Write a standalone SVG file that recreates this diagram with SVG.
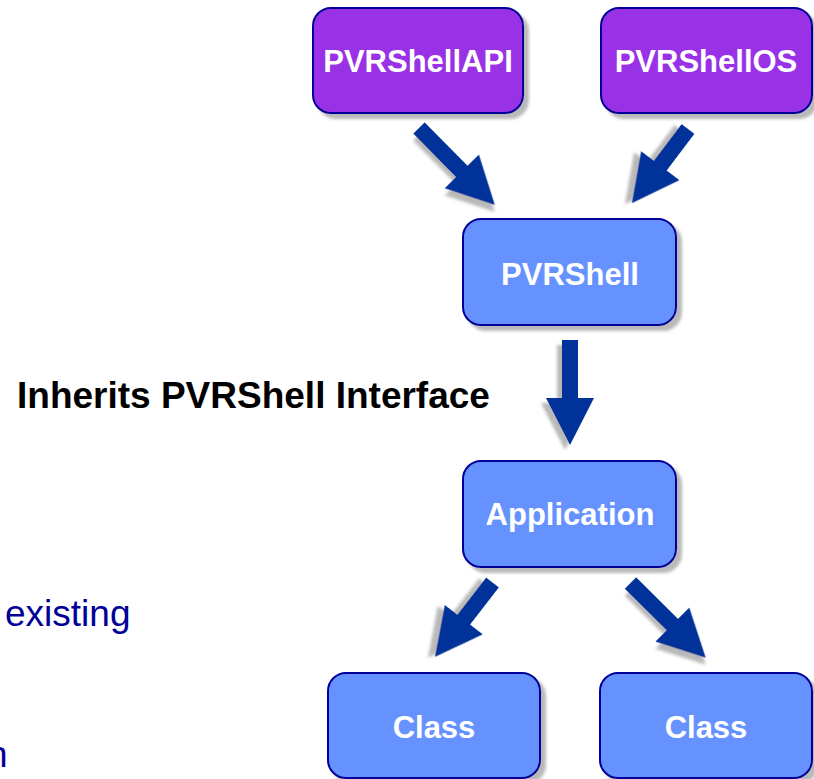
<svg xmlns="http://www.w3.org/2000/svg" width="814" height="779" viewBox="0 0 814 779">
<defs>
<filter id="sh" x="-20%" y="-20%" width="150%" height="150%">
<feDropShadow dx="5" dy="5" stdDeviation="1.5" flood-color="#808080" flood-opacity="0.55"/>
</filter>
<style>
.box{stroke:#000099;stroke-width:2;filter:url(#sh)}
.purple{fill:#9933E6}
.blue{fill:#6692FF}
.lbl{font-family:"Liberation Sans",Arial,sans-serif;font-weight:bold;font-size:31px;fill:#ffffff;text-anchor:middle}
.arrow{fill:#003399;filter:url(#sh)}
.note{font-family:"Liberation Sans",Arial,sans-serif;font-size:37px;fill:#000099}
.title{font-family:"Liberation Sans",Arial,sans-serif;font-weight:bold;font-size:37px;fill:#000000}
</style>
</defs>
<rect width="814" height="779" fill="#ffffff"/>
<g id="connectors">
<path class="arrow" transform="translate(419,128) rotate(45.4)" d="M0,-8 H61 V-24 L108,0 L61,24 V8 H0 Z"/>
<path class="arrow" transform="translate(688,129) rotate(127.1)" d="M0,-8 H46 V-24 L93,0 L46,24 V8 H0 Z"/>
<path class="arrow" transform="translate(570,340) rotate(90)" d="M0,-8 H58 V-24 L105,0 L58,24 V8 H0 Z"/>
<path class="arrow" transform="translate(492.5,582.5) rotate(127.7)" d="M0,-8 H47 V-24 L94,0 L47,24 V8 H0 Z"/>
<path class="arrow" transform="translate(630.5,583) rotate(44.8)" d="M0,-8 H59 V-24 L106,0 L59,24 V8 H0 Z"/>
</g>
<g id="PVRShellAPI">
<rect class="box purple" x="313" y="8" width="210" height="105" rx="18"/>
<text class="lbl" x="418" y="72">PVRShellAPI</text>
</g>
<g id="PVRShellOS">
<rect class="box purple" x="601" y="8" width="211" height="105" rx="18"/>
<text class="lbl" x="706" y="72">PVRShellOS</text>
</g>
<g id="PVRShell">
<rect class="box blue" x="463" y="219" width="213" height="106" rx="18"/>
<text class="lbl" x="570" y="285">PVRShell</text>
</g>
<g id="Application">
<rect class="box blue" x="463" y="461" width="213" height="106" rx="18"/>
<text class="lbl" x="570" y="525">Application</text>
</g>
<g id="Class1">
<rect class="box blue" x="328" y="673" width="212" height="105" rx="18"/>
<text class="lbl" x="434" y="738">Class</text>
</g>
<g id="Class2">
<rect class="box blue" x="600" y="673" width="212" height="105" rx="18"/>
<text class="lbl" x="706" y="738">Class</text>
</g>
<text class="title" x="17" y="408">Inherits PVRShell Interface</text>
<text class="note" x="5" y="626">existing</text>
<text class="note" x="-13" y="767">n</text>
</svg>
